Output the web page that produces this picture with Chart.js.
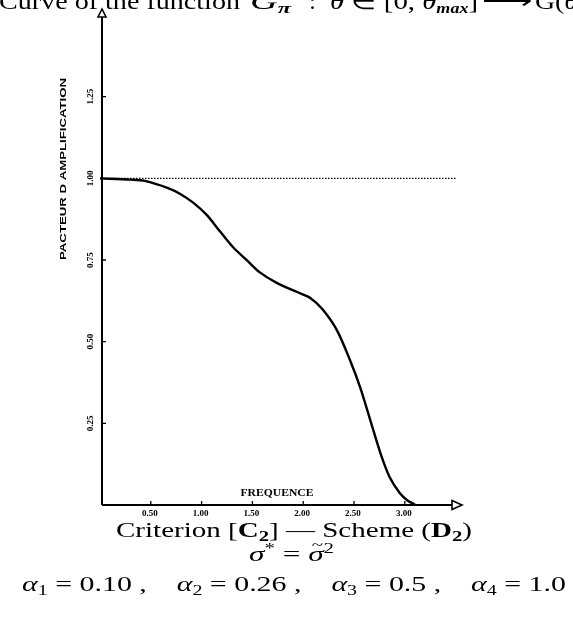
<!DOCTYPE html>
<html><head><meta charset="utf-8">
<script src="https://cdn.jsdelivr.net/npm/chart.js@4/dist/chart.umd.min.js"></script>
<style>html,body{margin:0;padding:0;background:#fff;}#wrap{width:573px;height:619px;position:relative;}</style>
</head><body><div id="wrap"><canvas id="c" width="573" height="619"></canvas></div>
<script>
// ---- data ----
const freq = [0.00, 0.30, 0.44, 0.67, 0.79, 0.92, 1.05, 1.18, 1.31, 1.45, 1.57, 1.74, 1.94, 2.07, 2.19, 2.33, 2.46, 2.56, 2.66, 2.76, 2.85, 2.95, 3.03, 3.10];
const amp  = [1.000, 0.996, 0.992, 0.970, 0.952, 0.925, 0.888, 0.838, 0.789, 0.748, 0.713, 0.680, 0.652, 0.634, 0.599, 0.536, 0.444, 0.361, 0.260, 0.159, 0.086, 0.037, 0.013, 0.002];
const refFreq = [0.00, 3.50];
const refAmp  = [1.00, 1.00];
const xTicks = [0.5, 1.0, 1.5, 2.0, 2.5, 3.0];
const xTickLabels = ['0.50', '1.00', '1.50', '2.00', '2.50', '3.00'];
const yTicks = [0.25, 0.50, 0.75, 1.00, 1.25];
const yTickLabels = ['0.25', '0.50', '0.75', '1.00', '1.25'];
const xTitle = 'FREQUENCE';
const yTitle = 'PACTEUR D AMPLIFICATION';

const curve = freq.map((f, i) => ({x: f, y: amp[i]}));
const ref = refFreq.map((f, i) => ({x: f, y: refAmp[i]}));

function runsWidth(ctx, runs) {
  let w = 0;
  for (const r of runs) { ctx.font = r.font; w += ctx.measureText(r.t).width; }
  return w;
}
function drawRuns(ctx, runs, x0, x1, baseline) {
  const w = runsWidth(ctx, runs);
  const s = (x1 - x0) / w;
  ctx.save();
  ctx.translate(x0, baseline);
  ctx.scale(s, 1);
  let x = 0;
  ctx.textAlign = 'left';
  ctx.textBaseline = 'alphabetic';
  ctx.fillStyle = '#000';
  for (const r of runs) {
    ctx.font = r.font;
    ctx.fillText(r.t, x, r.dy || 0);
    const rw = ctx.measureText(r.t).width;
    if (r.accent) {
      ctx.save();
      ctx.textAlign = 'center';
      ctx.font = r.accentFont || r.font;
      ctx.fillText(r.accent, x + rw / 2 + (r.accentDx || 0), (r.dy || 0) + (r.accentDy || -12));
      ctx.restore();
    }
    x += rw;
  }
  ctx.restore();
}

const F = 'Liberation Serif';
const N = (px) => `${px}px "${F}"`;
const I = (px) => `italic ${px}px "${F}"`;
const B = (px) => `bold ${px}px "${F}"`;
const BI = (px) => `bold italic ${px}px "${F}"`;

const decor = {
  id: 'decor',
  afterDraw(chart) {
    const ctx = chart.ctx;
    const xs = chart.scales.x, ys = chart.scales.y;
    const x0 = xs.getPixelForValue(0) + 2, y0 = ys.getPixelForValue(0);
    ctx.save();
    ctx.strokeStyle = '#000';
    ctx.fillStyle = '#fff';
    ctx.lineWidth = 2;
    // axes
    ctx.beginPath();
    ctx.moveTo(x0, y0); ctx.lineTo(x0, 16);
    ctx.moveTo(x0, y0); ctx.lineTo(452, y0);
    ctx.stroke();
    // arrows (open triangles)
    ctx.lineWidth = 1.6;
    ctx.beginPath();
    ctx.moveTo(x0, 9); ctx.lineTo(x0 - 4, 17); ctx.lineTo(x0 + 4, 17); ctx.closePath();
    ctx.fill(); ctx.stroke();
    ctx.beginPath();
    ctx.moveTo(462, y0); ctx.lineTo(452, y0 - 4.5); ctx.lineTo(452, y0 + 4.5); ctx.closePath();
    ctx.fill(); ctx.stroke();
    // ticks
    ctx.lineWidth = 1.3;
    ctx.beginPath();
    xTicks.forEach(v => { const p = xs.getPixelForValue(v); ctx.moveTo(p, y0); ctx.lineTo(p, y0 - 4); });
    yTicks.forEach(v => { const p = ys.getPixelForValue(v); ctx.moveTo(x0, p); ctx.lineTo(x0 + 4, p); });
    ctx.stroke();
    // tick labels
    ctx.fillStyle = '#000';
    ctx.font = 'bold 9px "Liberation Serif"';
    ctx.textAlign = 'center';
    ctx.textBaseline = 'middle';
    xTicks.forEach((v, i) => ctx.fillText(xTickLabels[i], xs.getPixelForValue(v) - 1, y0 + 9));
    yTicks.forEach((v, i) => {
      ctx.save();
      ctx.translate(x0 - 11, ys.getPixelForValue(v));
      ctx.rotate(-Math.PI / 2);
      ctx.fillText(yTickLabels[i], 0, 0);
      ctx.restore();
    });
    // axis titles
    ctx.font = 'bold 10px "Liberation Serif"';
    ctx.save();
    ctx.translate(277, 493);
    const wx = ctx.measureText(xTitle).width;
    ctx.scale(73 / wx, 1);
    ctx.fillText(xTitle, 0, 0);
    ctx.restore();
    ctx.font = 'bold 9px "Liberation Sans"';
    ctx.save();
    ctx.translate(64, 169);
    ctx.rotate(-Math.PI / 2);
    const wy = ctx.measureText(yTitle).width;
    ctx.scale(182 / wy, 1);
    ctx.fillText(yTitle, 0, 0);
    ctx.restore();
    ctx.restore();

    // top (cut) title
    drawRuns(ctx, [{t: 'Curve of the function ', font: N(24)}], -1, 247, 9);
    drawRuns(ctx, [{t: 'G', font: I(24)}, {t: 'π', font: BI(15), dy: 4}], 250, 291, 9);
    drawRuns(ctx, [{t: ':', font: N(24)}], 309, 316, 9);
    drawRuns(ctx, [{t: 'θ', font: I(24)}, {t: ' ∈ [0, ', font: N(24)}, {t: 'θ', font: I(24)}, {t: 'max', font: BI(15), dy: 4}, {t: ']', font: N(24)}], 330, 478, 9);
    drawRuns(ctx, [{t: '⟶', font: N(24)}], 482, 532, 9);
    drawRuns(ctx, [{t: 'G(', font: N(24)}, {t: 'θ', font: I(24)}], 535, 578, 9);

    // bottom caption
    drawRuns(ctx, [
      {t: 'Criterion [', font: N(21)}, {t: 'C', font: B(21)}, {t: '2', font: B(15), dy: 4},
      {t: '] — Scheme (', font: N(21)}, {t: 'D', font: B(21)}, {t: '2', font: B(15), dy: 4}, {t: ')', font: N(21)}
    ], 116, 472, 537);
    drawRuns(ctx, [
      {t: 'σ', font: I(21)}, {t: '*', font: N(14), dy: -8}, {t: ' = ', font: N(21)},
      {t: 'σ', font: I(21), accent: '~', accentFont: N(14), accentDy: -11, accentDx: 1}, {t: '2', font: N(14), dy: -8}
    ], 249, 334, 561);
    drawRuns(ctx, [
      {t: 'α', font: I(21)}, {t: '1', font: N(14), dy: 4}, {t: ' = 0.10 ,    ', font: N(21)},
      {t: 'α', font: I(21)}, {t: '2', font: N(14), dy: 4}, {t: ' = 0.26 ,    ', font: N(21)},
      {t: 'α', font: I(21)}, {t: '3', font: N(14), dy: 4}, {t: ' = 0.5 ,    ', font: N(21)},
      {t: 'α', font: I(21)}, {t: '4', font: N(14), dy: 4}, {t: ' = 1.0', font: N(21)}
    ], 22, 566, 591);
  }
};

new Chart(document.getElementById('c'), {
  type: 'scatter',
  data: {
    datasets: [
      {data: ref, showLine: true, borderColor: '#000', borderWidth: 1.2, borderDash: [1.5, 1.5], pointRadius: 0, fill: false},
      {data: curve, showLine: true, borderColor: '#000', borderWidth: 2.4, pointRadius: 0, fill: false, tension: 0.3}
    ]
  },
  options: {
    responsive: false,
    animation: false,
    devicePixelRatio: 1,
    layout: {padding: {left: 100, right: 111, top: 15, bottom: 114}},
    plugins: {legend: {display: false}, tooltip: {enabled: false}},
    scales: {
      x: {type: 'linear', min: 0, max: 3.563, display: false},
      y: {type: 'linear', min: 0, max: 1.5, display: false}
    }
  },
  plugins: [decor]
});
</script>
</body></html>
